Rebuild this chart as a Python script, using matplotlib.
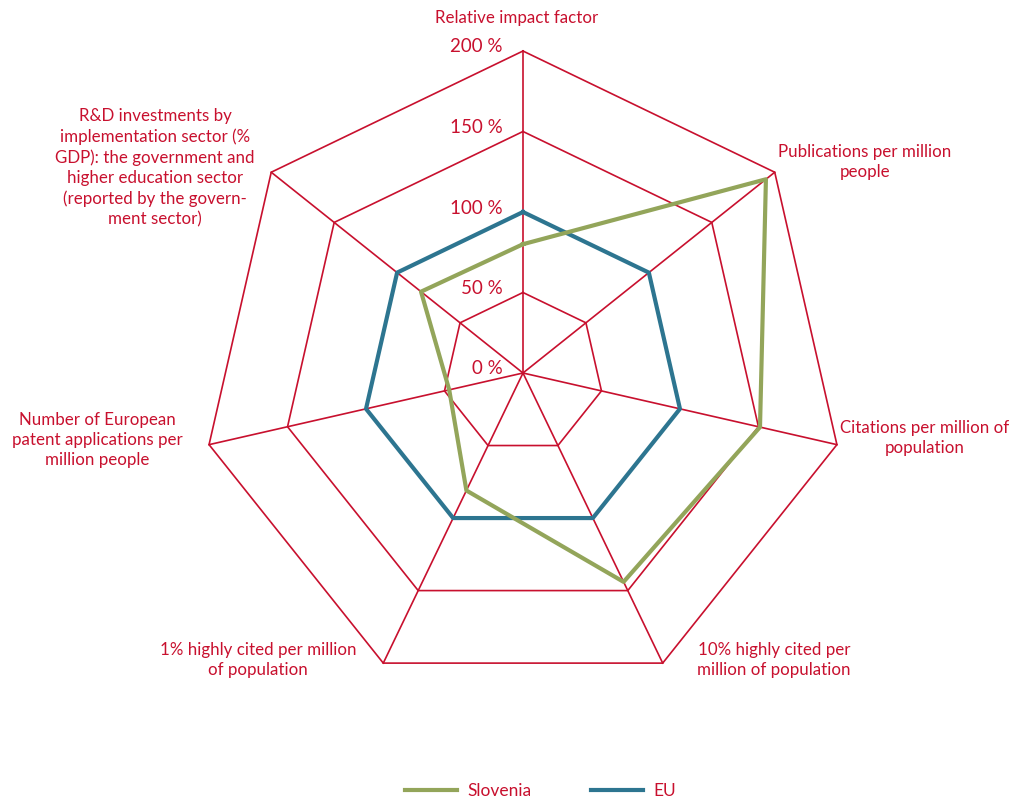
import numpy as np
import matplotlib
matplotlib.use("Agg")
import matplotlib.pyplot as plt

categories = [
    "Relative impact factor",
    "Publications per million\npeople",
    "Citations per million of\npopulation",
    "10% highly cited per\nmillion of population",
    "1% highly cited per million\nof population",
    "Number of European\npatent applications per\nmillion people",
    "R&D investments by\nimplementation sector (%\nGDP): the government and\nhigher education sector\n(reported by the govern-\nment sector)",
]
slovenia = [80, 193, 151, 144, 81, 47, 81]
eu = [100, 100, 100, 100, 100, 100, 100]
levels = [0, 50, 100, 150, 200]
level_labels = ["0 %", "50 %", "100 %", "150 %", "200 %"]

red = "#c8102e"
green = "#93a55a"
blue = "#2d7590"

plt.rcParams["font.family"] = ["Lato", "DejaVu Sans"]

fig = plt.figure(figsize=(10.16, 8), dpi=100)
ax = fig.add_axes([0.1978, 0.13125, 0.6339, 0.805], projection="polar")
ax.set_theta_zero_location("N")
ax.set_theta_direction(-1)
ax.set_ylim(0, 200)
ax.set_axis_off()

n = len(categories)
angles = np.linspace(0, 2 * np.pi, n, endpoint=False)
closed = np.append(angles, angles[0])

# grid polygons and spokes
for lv in levels[1:]:
    ax.plot(closed, [lv] * (n + 1), color=red, lw=1.2, clip_on=False, zorder=1)
for a in angles:
    ax.plot([a, a], [0, 200], color=red, lw=1.2, clip_on=False, zorder=1)

for lv, lab in zip(levels, level_labels):
    ax.annotate(lab, (0, lv), xytext=(-20, 4), textcoords="offset pixels",
                ha="right", va="center", color=red, fontsize=13.5)

ax.plot(closed, eu + eu[:1], color=blue, lw=3, clip_on=False, zorder=3, label="EU")
ax.plot(closed, slovenia + slovenia[:1], color=green, lw=3, clip_on=False, zorder=4,
        label="Slovenia")

label_pos = [(517, 18), (865, 162), (925, 438), (774, 660), (258, 660), (97, 440), (155, 168)]
for txt, (px, py) in zip(categories, label_pos):
    fig.text(px / 1016, 1 - py / 800, txt, ha="center", va="center", color=red,
             fontsize=12.2, linespacing=1.32)

h, l = ax.get_legend_handles_labels()
leg = fig.legend(h[::-1], l[::-1], loc="lower center", bbox_to_anchor=(0.532, -0.018), ncol=2,
                 frameon=False, handlelength=3.0, handletextpad=0.6, columnspacing=3.4,
                 fontsize=12.5)
for t in leg.get_texts():
    t.set_color(red)

fig.savefig("out.png", dpi=100)
